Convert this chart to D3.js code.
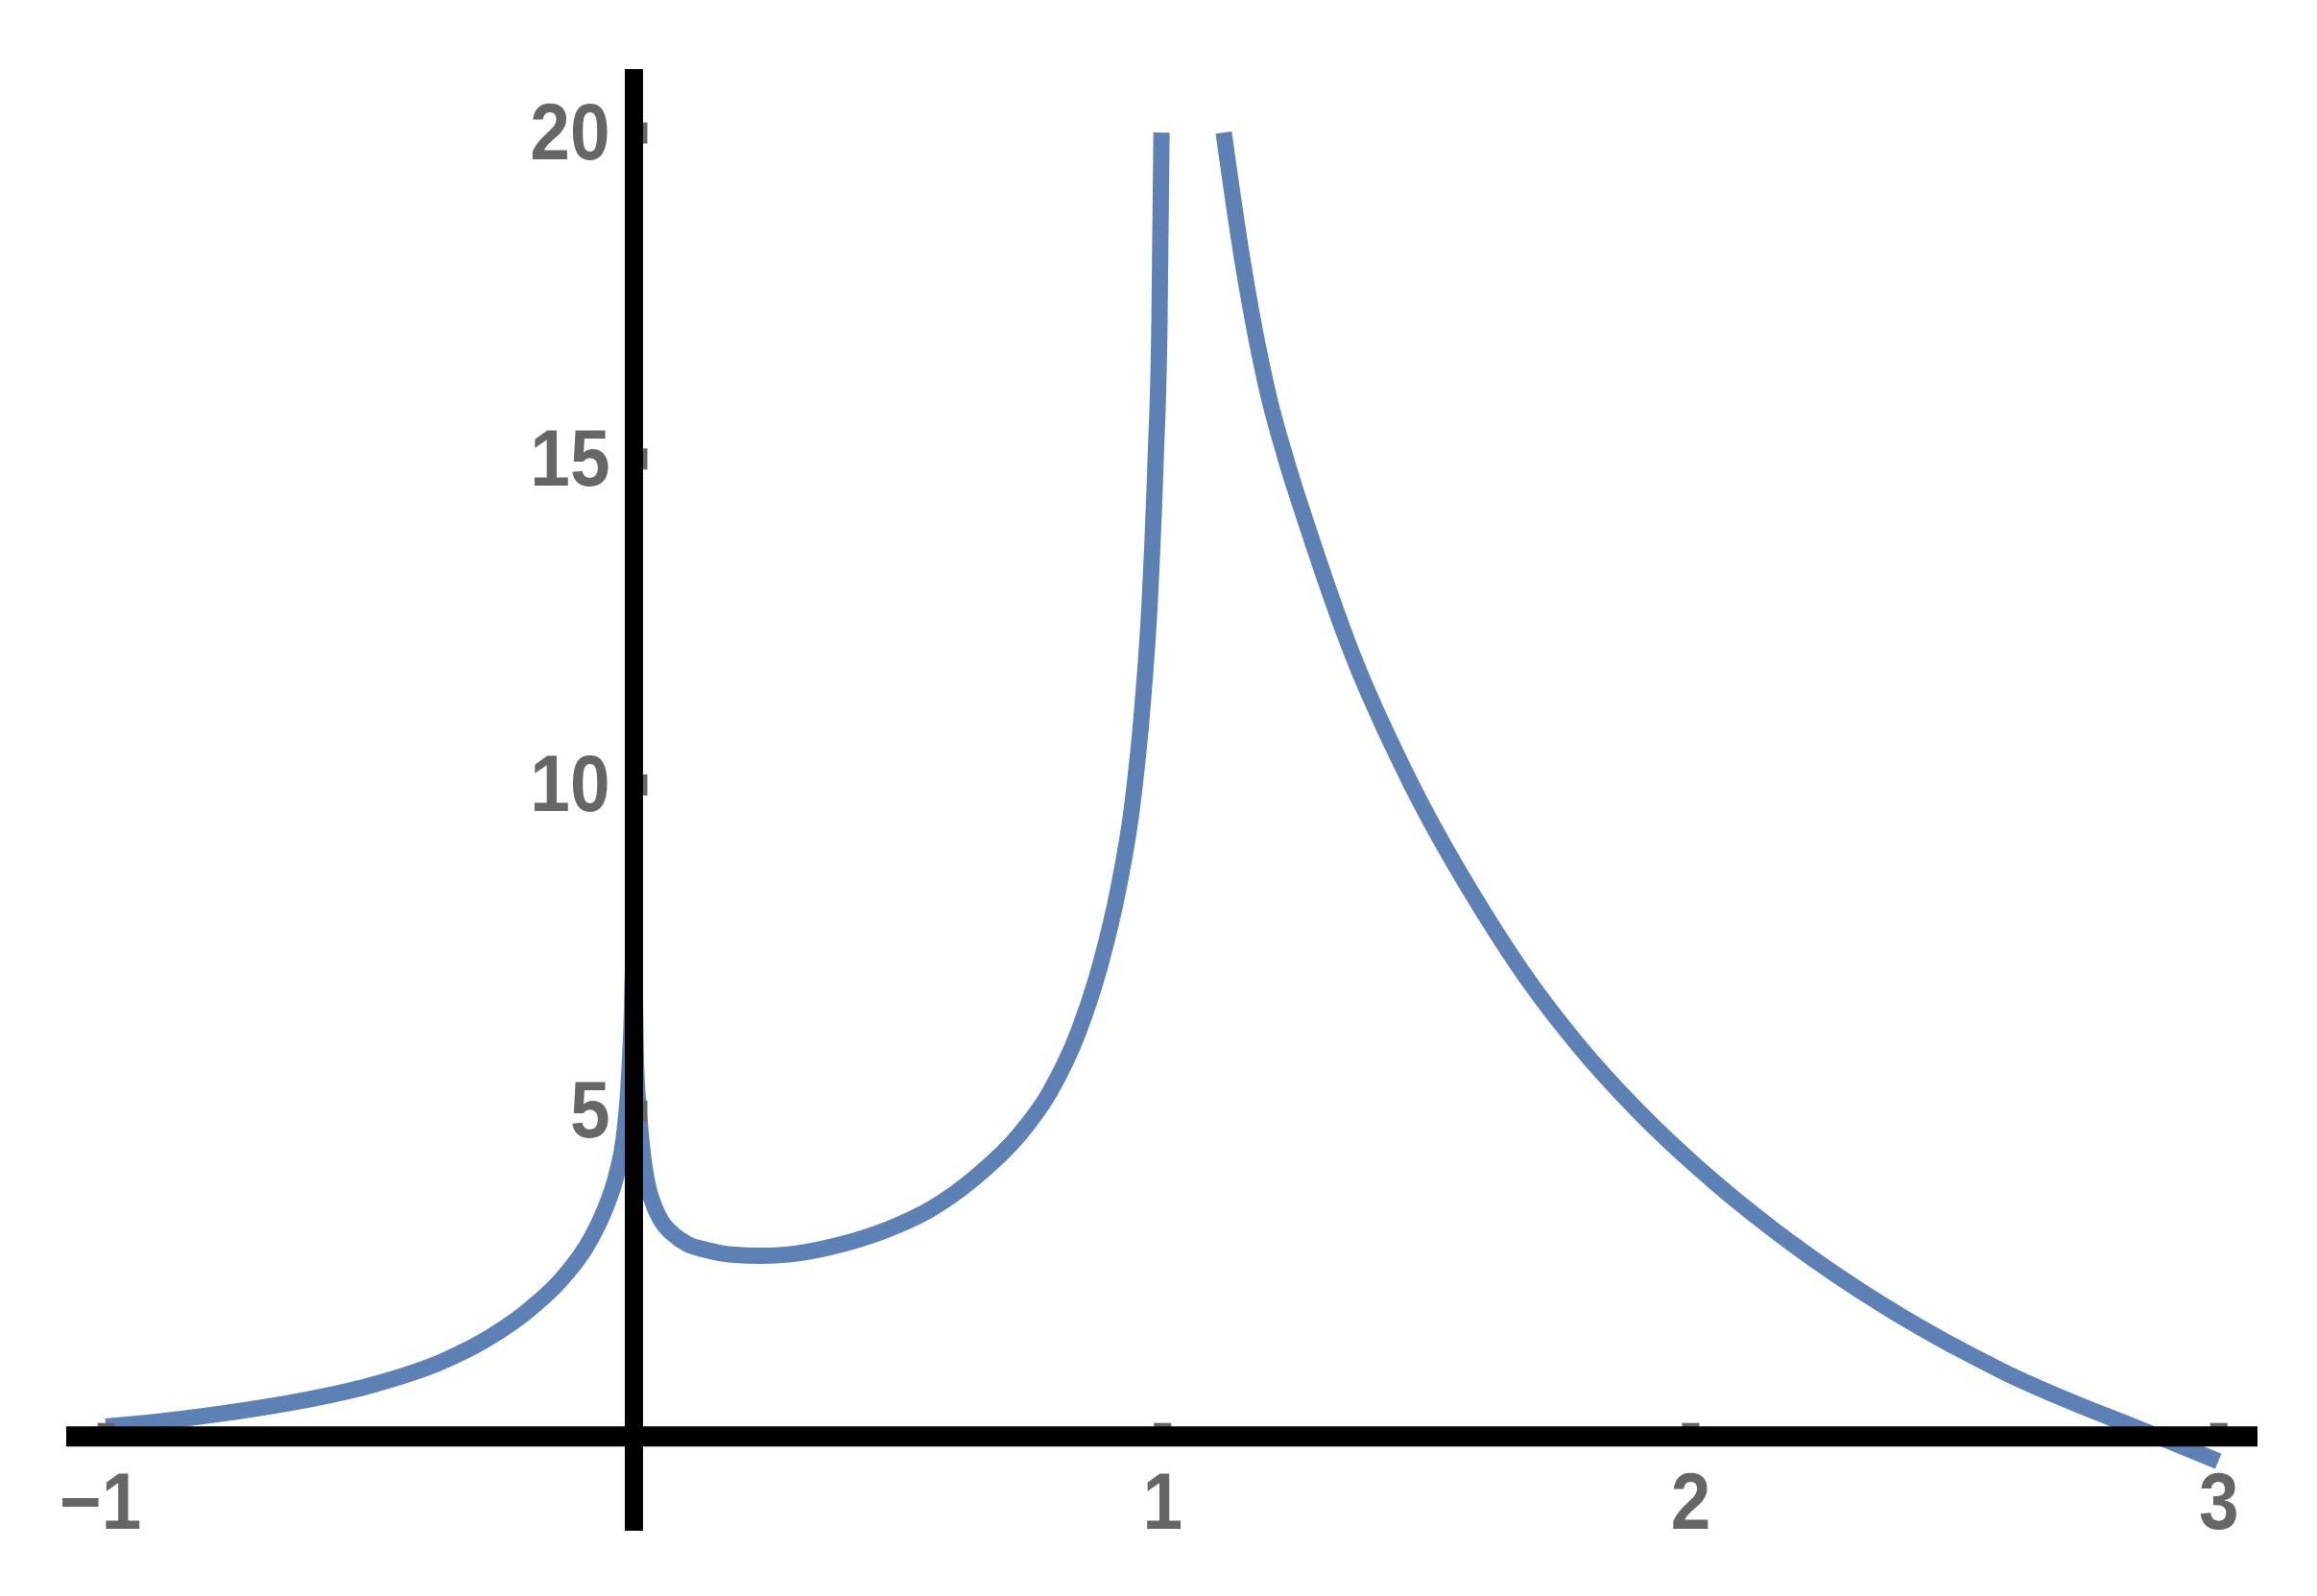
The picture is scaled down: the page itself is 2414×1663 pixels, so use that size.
<!DOCTYPE html>
<html>
<head>
<meta charset="utf-8">
<script src="https://cdn.jsdelivr.net/npm/d3@7"></script>
<style>
  html, body { margin: 0; padding: 0; background: #ffffff; }
  svg { display: block; }
  .lbl { font-family: 'Liberation Sans', Arial, 'Open Sans', sans-serif; font-weight: 700; font-size: 83px; }
</style>
</head>
<body>
<svg id="chart" width="2414" height="1663"></svg>
<script>
// ---- data ----
const leftX = [-1.0, -0.92, -0.78, -0.64, -0.50, -0.36, -0.277, -0.193, -0.137, -0.081, -0.053, -0.033, -0.019, -0.011, -0.005, 0.0,
               0.004, 0.0087, 0.014, 0.020, 0.028, 0.039, 0.053, 0.073, 0.101, 0.137, 0.185, 0.241, 0.311, 0.395, 0.479,
               0.563, 0.646, 0.730, 0.786, 0.842, 0.884, 0.917, 0.943, 0.962, 0.977, 0.988, 0.995, 0.999];
const leftY = [0.15, 0.21, 0.35, 0.53, 0.78, 1.16, 1.50, 1.98, 2.41, 3.04, 3.52, 4.01, 4.58, 5.26, 6.2, 7.4,
               5.72, 5.04, 4.54, 4.13, 3.79, 3.52, 3.29, 3.11, 2.95, 2.86, 2.79, 2.77, 2.81, 2.95, 3.17,
               3.49, 3.97, 4.63, 5.26, 6.21, 7.26, 8.39, 9.64, 11.11, 12.85, 15.01, 17.04, 20.0];
const rightX = [1.1167, 1.153, 1.2006, 1.2342, 1.2734, 1.3601, 1.472, 1.6119, 1.6931, 1.7882, 1.9001,
                2.0316, 2.1855, 2.3674, 2.5912, 2.885, 3.0];
const rightY = [20, 18, 16, 15, 14, 12, 10, 8, 7, 6, 5, 4, 3, 2, 1, 0, -0.38];
const xTicks = [-1, 1, 2, 3];
const xTickLabels = ["\u22121", "1", "2", "3"];
const yTicks = [5, 10, 15, 20];
const yTickLabels = ["5", "10", "15", "20"];

// ---- layout ----
const svg = d3.select("#chart");
const x = d3.scaleLinear().domain([-1, 3]).range([110.2, 2311.2]);
const y = d3.scaleLinear().domain([0, 20]).range([1496.7, 138.1]);

const curveColor = "#5e81b5";
const tickColor = "#666666";

const line = d3.line()
  .x(d => x(d[0]))
  .y(d => y(d[1]))
  .curve(d3.curveMonotoneX);

const leftPts = leftX.map((v, i) => [v, leftY[i]]);
const rightPts = rightX.map((v, i) => [v, rightY[i]]);

svg.append("g").selectAll("path")
  .data([leftPts, rightPts])
  .join("path")
  .attr("d", line)
  .attr("fill", "none")
  .attr("stroke", curveColor)
  .attr("stroke-width", 17)
  .attr("stroke-linecap", "butt")
  .attr("stroke-linejoin", "round");

// x axis ticks + labels
const gx = svg.append("g")
  .attr("transform", `translate(0,${y(0)})`)
  .call(d3.axisBottom(x).tickValues(xTicks)
        .tickFormat((d, i) => xTickLabels[i])
        .tickSize(-14).tickSizeOuter(0));
gx.attr("font-family", null).attr("font-size", null);
gx.select(".domain").remove();
gx.selectAll(".tick line").attr("stroke", tickColor).attr("stroke-width", 18);
gx.selectAll(".tick text")
  .attr("class", "lbl")
  .attr("y", 96).attr("dy", null)
  .attr("x", d => d < 0 ? -6 : 0)
  .attr("fill", tickColor);

// y axis ticks + labels
const gy = svg.append("g")
  .attr("transform", `translate(${x(0)},0)`)
  .call(d3.axisLeft(y).tickValues(yTicks)
        .tickFormat((d, i) => yTickLabels[i])
        .tickSize(-14).tickSizeOuter(0).tickPadding(25));
gy.attr("font-family", null).attr("font-size", null);
gy.select(".domain").remove();
gy.selectAll(".tick line").attr("stroke", tickColor).attr("stroke-width", 22);
gy.selectAll(".tick text")
  .attr("class", "lbl")
  .attr("dy", "0.33em")
  .attr("text-anchor", "end")
  .attr("fill", tickColor);

// narrow the glyphs a bit, as in the reference
function fitLabels() {
  svg.selectAll(".tick text").each(function () {
    d3.select(this).attr("textLength", null).attr("lengthAdjust", null);
    const w = this.getComputedTextLength();
    d3.select(this).attr("textLength", w * 0.9).attr("lengthAdjust", "spacingAndGlyphs");
  });
}
fitLabels();
if (document.fonts && document.fonts.load) {
  document.fonts.load("700 83px 'Liberation Sans'").then(fitLabels).catch(() => {});
}

// axis lines (drawn over the curve)
svg.append("line")
  .attr("x1", 69).attr("x2", 2352)
  .attr("y1", y(0)).attr("y2", y(0))
  .attr("stroke", "#000").attr("stroke-width", 21);
svg.append("line")
  .attr("x1", x(0)).attr("x2", x(0))
  .attr("y1", 72).attr("y2", 1595)
  .attr("stroke", "#000").attr("stroke-width", 19);
</script>
</body>
</html>
